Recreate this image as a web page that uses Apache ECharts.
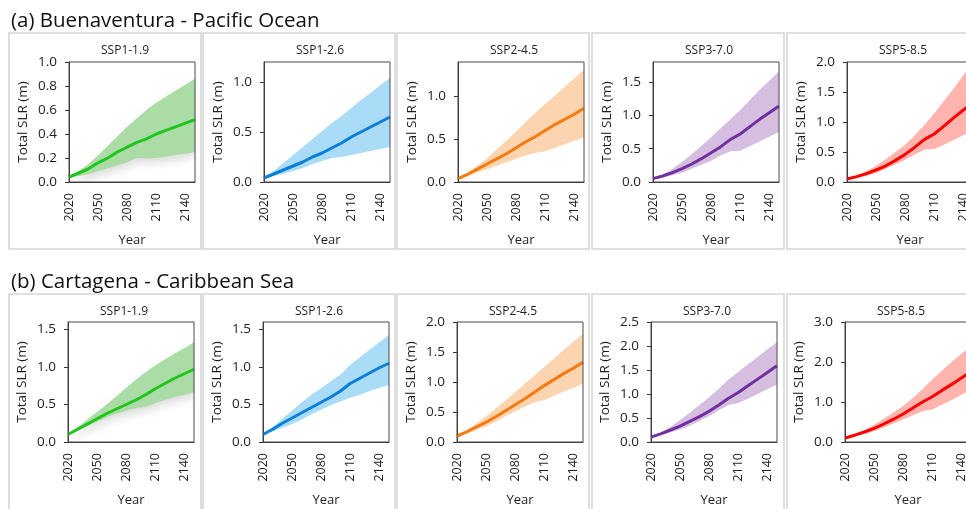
<!DOCTYPE html>
<html>
<head>
<meta charset="utf-8">
<script src="https://cdn.jsdelivr.net/npm/echarts@6/dist/echarts.min.js"></script>
<style>
  html, body { margin: 0; padding: 0; background: #ffffff; }
  #chart { width: 966px; height: 509px; }
</style>
</head>
<body>
<div id="chart"></div>
<script>
// ---- data -------------------------------------------------------------
const years = [2020, 2030, 2040, 2050, 2060, 2070, 2080, 2090, 2100, 2110, 2120, 2130, 2140, 2150];
const scenarios = ['SSP1-1.9', 'SSP1-2.6', 'SSP2-4.5', 'SSP3-7.0', 'SSP5-8.5'];
const siteTitles = ['(a) Buenaventura - Pacific Ocean', '(b) Cartagena - Caribbean Sea'];

// Buenaventura (Pacific): median, 83rd and 17th percentile sea-level rise (m)
const buenMed119 = [0.04, 0.075, 0.11, 0.16, 0.20, 0.25, 0.29, 0.33, 0.36, 0.40, 0.43, 0.46, 0.49, 0.52];
const buenHigh119 = [0.04, 0.09, 0.15, 0.22, 0.30, 0.38, 0.46, 0.53, 0.60, 0.66, 0.71, 0.76, 0.81, 0.86];
const buenLow119 = [0.04, 0.05, 0.065, 0.09, 0.115, 0.14, 0.165, 0.20, 0.195, 0.20, 0.21, 0.225, 0.235, 0.25];

const buenMed126 = [0.04, 0.08, 0.12, 0.16, 0.20, 0.25, 0.29, 0.34, 0.39, 0.45, 0.50, 0.55, 0.60, 0.65];
const buenHigh126 = [0.04, 0.11, 0.19, 0.27, 0.35, 0.43, 0.51, 0.59, 0.66, 0.74, 0.82, 0.89, 0.97, 1.04];
const buenLow126 = [0.04, 0.06, 0.08, 0.11, 0.14, 0.18, 0.21, 0.24, 0.25, 0.27, 0.29, 0.31, 0.33, 0.35];

const buenMed245 = [0.04, 0.09, 0.15, 0.21, 0.27, 0.33, 0.40, 0.47, 0.53, 0.60, 0.67, 0.73, 0.79, 0.86];
const buenHigh245 = [0.04, 0.11, 0.19, 0.28, 0.38, 0.48, 0.59, 0.70, 0.81, 0.91, 1.01, 1.11, 1.21, 1.31];
const buenLow245 = [0.04, 0.07, 0.11, 0.15, 0.19, 0.23, 0.27, 0.31, 0.34, 0.36, 0.40, 0.44, 0.48, 0.52];

const buenMed370 = [0.05, 0.09, 0.14, 0.20, 0.27, 0.35, 0.44, 0.53, 0.64, 0.72, 0.83, 0.94, 1.04, 1.14];
const buenHigh370 = [0.05, 0.11, 0.20, 0.30, 0.42, 0.54, 0.67, 0.81, 0.94, 1.08, 1.23, 1.38, 1.52, 1.66];
const buenLow370 = [0.05, 0.07, 0.10, 0.14, 0.20, 0.26, 0.32, 0.40, 0.46, 0.47, 0.54, 0.61, 0.68, 0.75];

const buenMed585 = [0.05, 0.09, 0.14, 0.20, 0.27, 0.36, 0.46, 0.58, 0.71, 0.80, 0.93, 1.07, 1.20, 1.32];
const buenHigh585 = [0.05, 0.11, 0.18, 0.27, 0.38, 0.50, 0.62, 0.78, 0.95, 1.14, 1.35, 1.56, 1.78, 1.98];
const buenLow585 = [0.05, 0.07, 0.10, 0.15, 0.22, 0.29, 0.37, 0.46, 0.54, 0.55, 0.62, 0.70, 0.78, 0.85];

// Cartagena (Caribbean)
const cartMed119 = [0.10, 0.17, 0.24, 0.31, 0.38, 0.44, 0.50, 0.56, 0.63, 0.71, 0.78, 0.85, 0.91, 0.97];
const cartHigh119 = [0.10, 0.20, 0.30, 0.40, 0.50, 0.61, 0.72, 0.83, 0.93, 1.02, 1.10, 1.18, 1.25, 1.33];
const cartLow119 = [0.10, 0.15, 0.21, 0.27, 0.33, 0.38, 0.42, 0.45, 0.47, 0.52, 0.56, 0.60, 0.63, 0.66];

const cartMed126 = [0.10, 0.17, 0.25, 0.32, 0.39, 0.46, 0.53, 0.60, 0.68, 0.78, 0.85, 0.92, 0.99, 1.05];
const cartHigh126 = [0.10, 0.20, 0.31, 0.42, 0.53, 0.63, 0.72, 0.81, 0.90, 1.03, 1.13, 1.23, 1.33, 1.43];
const cartLow126 = [0.10, 0.14, 0.19, 0.24, 0.30, 0.37, 0.43, 0.49, 0.54, 0.59, 0.63, 0.68, 0.72, 0.76];

const cartMed245 = [0.10, 0.17, 0.25, 0.33, 0.42, 0.52, 0.62, 0.72, 0.83, 0.94, 1.04, 1.14, 1.23, 1.33];
const cartHigh245 = [0.10, 0.20, 0.31, 0.43, 0.56, 0.69, 0.83, 0.97, 1.11, 1.25, 1.39, 1.53, 1.67, 1.80];
const cartLow245 = [0.10, 0.14, 0.20, 0.26, 0.34, 0.43, 0.51, 0.59, 0.66, 0.70, 0.77, 0.84, 0.90, 0.97];

const cartMed370 = [0.10, 0.17, 0.25, 0.33, 0.43, 0.53, 0.64, 0.77, 0.91, 1.03, 1.17, 1.31, 1.45, 1.59];
const cartHigh370 = [0.10, 0.19, 0.31, 0.46, 0.61, 0.77, 0.93, 1.11, 1.30, 1.46, 1.62, 1.77, 1.93, 2.08];
const cartLow370 = [0.10, 0.15, 0.20, 0.26, 0.34, 0.44, 0.54, 0.66, 0.77, 0.81, 0.90, 1.00, 1.10, 1.20];

const cartMed585 = [0.10, 0.17, 0.25, 0.34, 0.45, 0.57, 0.70, 0.85, 1.00, 1.13, 1.29, 1.44, 1.60, 1.76];
const cartHigh585 = [0.10, 0.19, 0.30, 0.43, 0.58, 0.74, 0.90, 1.10, 1.32, 1.56, 1.78, 2.00, 2.20, 2.40];
const cartLow585 = [0.10, 0.14, 0.20, 0.27, 0.36, 0.46, 0.56, 0.67, 0.77, 0.81, 0.93, 1.05, 1.18, 1.30];

// y-axis extents and tick labels for each panel
const buenYMax = [1.0, 1.2, 1.4, 1.8, 2.0];
const cartYMax = [1.6, 1.6, 2.0, 2.5, 3.0];
const buenYTicks = [
  [0, 0.2, 0.4, 0.6, 0.8, 1.0],
  [0, 0.5, 1.0],
  [0, 0.5, 1.0],
  [0, 0.5, 1.0, 1.5],
  [0, 0.5, 1.0, 1.5, 2.0]
];
const cartYTicks = [
  [0, 0.5, 1.0, 1.5],
  [0, 0.5, 1.0, 1.5],
  [0, 0.5, 1.0, 1.5, 2.0],
  [0, 0.5, 1.0, 1.5, 2.0, 2.5],
  [0, 1.0, 2.0, 3.0]
];

// ---- styling ----------------------------------------------------------
const lineColors = ['#1fc41f', '#0b7fd7', '#f7790f', '#7030a0', '#ff0000'];
const bandColors = ['#acdca5', '#abdcf7', '#fdd4b0', '#d5bee0', '#ffb4ae'];
const FONT = 'Open Sans';
const TEXT = '#1e1e1e';

const boxLefts = [9, 203, 397, 592, 787];
const boxWidth = 192;
const boxTops = [33, 294];
const boxHeights = [216, 230];
const plotLefts = [[69, 264, 458, 653, 847], [68, 263, 457, 651, 845]];
const plotTops = [62, 322];
const plotW = 126, plotH = 120;

const rows = [
  { title: siteTitles[0], med: [buenMed119, buenMed126, buenMed245, buenMed370, buenMed585],
    high: [buenHigh119, buenHigh126, buenHigh245, buenHigh370, buenHigh585],
    low: [buenLow119, buenLow126, buenLow245, buenLow370, buenLow585],
    ymax: buenYMax, ticks: buenYTicks },
  { title: siteTitles[1], med: [cartMed119, cartMed126, cartMed245, cartMed370, cartMed585],
    high: [cartHigh119, cartHigh126, cartHigh245, cartHigh370, cartHigh585],
    low: [cartLow119, cartLow126, cartLow245, cartLow370, cartLow585],
    ymax: cartYMax, ticks: cartYTicks }
];

const grid = [], xAxis = [], yAxis = [], series = [], graphic = [];

rows.forEach((row, r) => {
  graphic.push({
    type: 'text', x: 11, y: boxTops[r] - 12, z: 10,
    style: { text: row.title, fontSize: 20.5, fontFamily: FONT, fill: '#111', align: 'left', verticalAlign: 'middle' }
  });
  scenarios.forEach((name, c) => {
    const k = r * 5 + c;
    graphic.push({
      type: 'rect', z: -1,
      shape: { x: boxLefts[c], y: boxTops[r], width: boxWidth, height: boxHeights[r] },
      style: { fill: 'none', stroke: '#d6d6d6', lineWidth: 1.6 }
    });
    graphic.push({
      type: 'text', x: plotLefts[r][c] + 56, y: boxTops[r] + 18, z: 10,
      style: { text: name, fontSize: 12, fontFamily: FONT, fill: TEXT, align: 'center', verticalAlign: 'middle' }
    });

    grid.push({
      left: plotLefts[r][c], top: plotTops[r], width: plotW, height: plotH,
      show: true, borderColor: '#4a4a4a', borderWidth: 1, backgroundColor: 'transparent',
      z: 5, outerBoundsMode: 'none', containLabel: false
    });
    xAxis.push({
      gridIndex: k, type: 'category', data: years, boundaryGap: false,
      axisLine: { lineStyle: { color: '#333333', width: 1 } },
      axisTick: { show: false },
      axisLabel: { interval: 2, rotate: 90, fontSize: 12.5, fontFamily: FONT, color: TEXT, margin: 11 },
      splitLine: { show: false },
      name: 'Year', nameLocation: 'middle', nameGap: 52,
      nameTextStyle: { fontSize: 13, fontFamily: FONT, color: TEXT }
    });
    yAxis.push({
      gridIndex: k, type: 'value', min: 0, max: row.ymax[c],
      axisLine: { show: true, lineStyle: { color: '#333333', width: 1 } },
      axisTick: { show: true, length: 4, customValues: row.ticks[c], lineStyle: { color: '#333333' } },
      axisLabel: { customValues: row.ticks[c], formatter: v => v.toFixed(1), fontSize: 13.5, fontFamily: FONT, color: TEXT, margin: 12 },
      splitLine: { show: false },
      name: 'Total SLR (m)', nameLocation: 'middle', nameGap: 39,
      nameTextStyle: { fontSize: 13.5, fontFamily: FONT, color: TEXT }
    });

    const lo = row.low[c], hi = row.high[c];
    const width = hi.map((v, j) => +(v - lo[j]).toFixed(4));
    const bandArea = { color: bandColors[c], opacity: 1 };
    if (c === 0) {
      // soft grey shadow under the lowest-emission band
      Object.assign(bandArea, { shadowBlur: 10, shadowColor: 'rgba(0,0,0,0.14)', shadowOffsetY: 5 });
    }
    series.push({
      type: 'line', xAxisIndex: k, yAxisIndex: k, data: lo, stack: 'range' + k,
      symbol: 'none', silent: true, lineStyle: { opacity: 0 }, z: 2
    });
    series.push({
      type: 'line', xAxisIndex: k, yAxisIndex: k, data: width, stack: 'range' + k,
      symbol: 'none', silent: true, lineStyle: { opacity: 0 }, areaStyle: bandArea, z: 2
    });
    series.push({
      type: 'line', xAxisIndex: k, yAxisIndex: k, data: row.med[c],
      symbol: 'none', lineStyle: { color: lineColors[c], width: 3 }, z: 3
    });
  });
});

const chart = echarts.init(document.getElementById('chart'), null, { renderer: 'canvas' });
chart.setOption({
  animation: false,
  backgroundColor: '#ffffff',
  textStyle: { fontFamily: FONT },
  grid, xAxis, yAxis, series, graphic
});
</script>
</body>
</html>
